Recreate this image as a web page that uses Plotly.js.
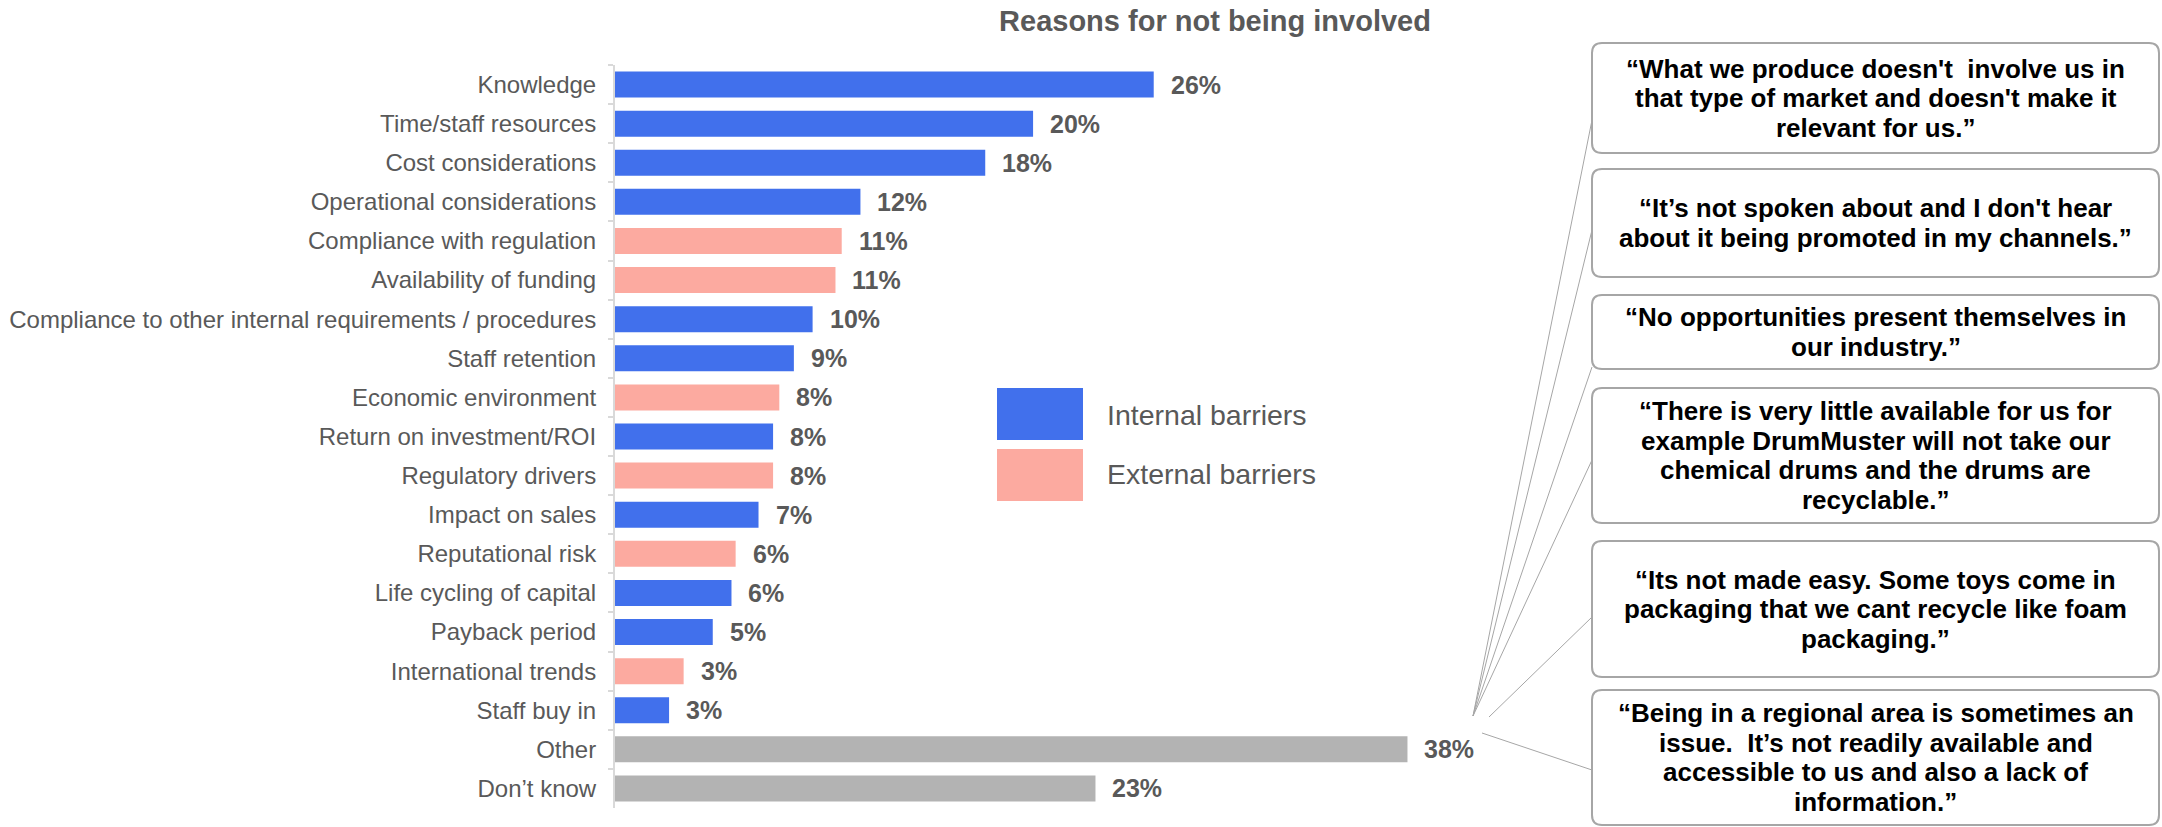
<!DOCTYPE html>
<html>
<head>
<meta charset="utf-8">
<script src="https://cdn.plot.ly/plotly-3.0.1.min.js"></script>
<style>html,body{margin:0;padding:0;background:#fff;}#chart{width:2162px;height:827px;}</style>
</head>
<body>
<div id="chart"></div>
<script>
// ---- data ----
const categories = [
  "Knowledge", "Time/staff resources", "Cost considerations", "Operational considerations",
  "Compliance with regulation", "Availability of funding",
  "Compliance to other internal requirements / procedures", "Staff retention",
  "Economic environment", "Return on investment/ROI", "Regulatory drivers", "Impact on sales",
  "Reputational risk", "Life cycling of capital", "Payback period", "International trends",
  "Staff buy in", "Other", "Don’t know"
];
const values = [25.9, 20.1, 17.8, 11.8, 10.9, 10.6, 9.5, 8.6, 7.9, 7.6, 7.6, 6.9, 5.8, 5.6, 4.7, 3.3, 2.6, 38.1, 23.1];
const groups = ["internal","internal","internal","internal","external","external","internal","internal",
  "external","internal","external","internal","external","internal","internal","external","internal","other","other"];
const legendLabels = ["Internal barriers", "External barriers"];
const chartTitle = "Reasons for not being involved";
const quotes = [
  ["“What we produce doesn't  involve us in", "that type of market and doesn't make it", "relevant for us.”"],
  ["“It’s not spoken about and I don't hear", "about it being promoted in my channels.”"],
  ["“No opportunities present themselves in", "our industry.”"],
  ["“There is very little available for us for", "example DrumMuster will not take our", "chemical drums and the drums are", "recyclable.”"],
  ["“Its not made easy. Some toys come in", "packaging that we cant recycle like foam", "packaging.”"],
  ["“Being in a regional area is sometimes an", "issue.  It’s not readily available and", "accessible to us and also a lack of", "information.”"]
];

// ---- styles / layout geometry ----
const colors = {internal: "#4170EC", external: "#FCAAA0", other: "#B3B3B3"};
const W = 2162, H = 827, L = 615, R = 1500, T = 65, B = 808;
const pxPerUnit = 20.8;
const FONT = "Liberation Sans, Arial, Helvetica, sans-serif";
const GREY = "#595959";
function px(x){ return (x - L) / (R - L); }
function py(y){ return (B - y) / (B - T); }
function roundRect(x0, y0, x1, y1, r){
  return `M ${px(x0+r)} ${py(y0)} L ${px(x1-r)} ${py(y0)} Q ${px(x1)} ${py(y0)} ${px(x1)} ${py(y0+r)} ` +
         `L ${px(x1)} ${py(y1-r)} Q ${px(x1)} ${py(y1)} ${px(x1-r)} ${py(y1)} ` +
         `L ${px(x0+r)} ${py(y1)} Q ${px(x0)} ${py(y1)} ${px(x0)} ${py(y1-r)} ` +
         `L ${px(x0)} ${py(y0+r)} Q ${px(x0)} ${py(y0)} ${px(x0+r)} ${py(y0)} Z`;
}

const boxes = [[1592,43,2159,153],[1592,169,2159,277],[1592,295,2159,369],[1592,388,2159,523],[1592,541,2159,677],[1592,690,2159,825]];
const connectors = [[1473,716,1592,120],[1473,716,1592,230],[1473,716,1592,367],[1473,716,1592,460],[1489,717,1592,617],[1482,733,1592,770]];
const legendBoxes = [[997,388,1083,440],[997,449,1083,501]];
const legendTextY = [415, 474];
const quoteLineSpacing = 29.5;

const trace = {
  type: "bar", orientation: "h",
  x: values, y: categories,
  marker: {color: groups.map(g => colors[g])},
  hoverinfo: "none", showlegend: false
};

const shapes = [];
const annotations = [];

values.forEach((v, i) => {
  annotations.push({
    x: v, y: categories[i], xref: "x", yref: "y",
    text: Math.round(v) + "%", showarrow: false, xanchor: "left", yanchor: "middle",
    xshift: 15, font: {family: FONT, size: 25, color: GREY, weight: "bold"}
  });
});

legendLabels.forEach((lab, i) => {
  const b = legendBoxes[i];
  shapes.push({type: "rect", xref: "paper", yref: "paper", x0: px(b[0]), x1: px(b[2]), y0: py(b[3]), y1: py(b[1]),
    fillcolor: i === 0 ? colors.internal : colors.external, line: {width: 0}});
  annotations.push({xref: "paper", yref: "paper", x: px(1105), y: py(legendTextY[i]), text: lab,
    showarrow: false, xanchor: "left", yanchor: "middle", font: {family: FONT, size: 28.5, color: GREY}});
});

connectors.forEach(c => {
  shapes.push({type: "line", xref: "paper", yref: "paper", x0: px(c[0]), y0: py(c[1]), x1: px(c[2]), y1: py(c[3]),
    line: {color: "#A6A6A6", width: 1}});
});

boxes.forEach((b, i) => {
  shapes.push({type: "path", xref: "paper", yref: "paper", path: roundRect(b[0], b[1], b[2], b[3], 10),
    fillcolor: "#FFFFFF", line: {color: "#A6A6A6", width: 2}});
  const lines = quotes[i];
  const cy = (b[1] + b[3]) / 2;
  lines.forEach((ln, j) => {
    const y = cy + (j - (lines.length - 1) / 2) * quoteLineSpacing;
    annotations.push({xref: "paper", yref: "paper", x: px((b[0]+b[2])/2), y: py(y),
      text: ln, showarrow: false, xanchor: "center", yanchor: "middle", align: "center",
      font: {family: FONT, size: 26, color: "#000000", weight: "bold"}});
  });
});

const layout = {
  width: W, height: H,
  margin: {l: L, r: W - R, t: T, b: H - B, pad: 0},
  paper_bgcolor: "#FFFFFF", plot_bgcolor: "rgba(0,0,0,0)",
  font: {family: FONT, color: GREY},
  title: {text: chartTitle, x: 1215 / W, xref: "container", xanchor: "center",
          y: 1 - 21 / H, yref: "container", yanchor: "middle",
          font: {family: FONT, size: 29, color: GREY, weight: "bold"}},
  bargap: 0.335,
  xaxis: {range: [0, (R - L) / pxPerUnit], visible: false, fixedrange: true},
  yaxis: {type: "category", autorange: "reversed", showline: true, linecolor: "#D9D9D9", linewidth: 2,
          ticks: "outside", tickson: "boundaries", ticklen: 5, tickwidth: 2, tickcolor: "#D9D9D9",
          ticklabelstandoff: 12, showgrid: false, zeroline: false,
          tickfont: {family: FONT, size: 24, color: GREY}, fixedrange: true},
  shapes: shapes, annotations: annotations, showlegend: false
};

Plotly.newPlot("chart", [trace], layout, {displayModeBar: false, staticPlot: true});
</script>
</body>
</html>
